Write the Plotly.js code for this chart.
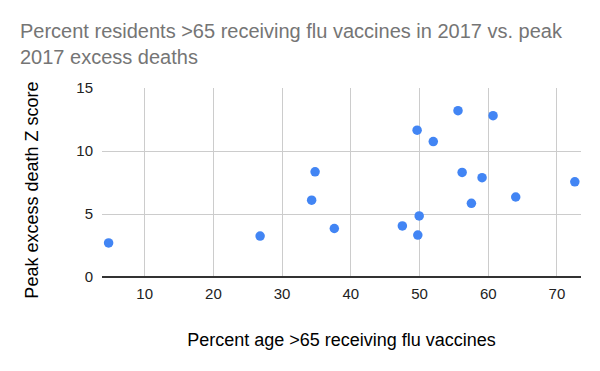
<!DOCTYPE html>
<html>
<head>
<meta charset="utf-8">
<script src="https://cdn.plot.ly/plotly-3.0.1.min.js"></script>
<style>html,body{margin:0;padding:0;background:#fff;}#chart{width:600px;height:371px;}</style>
</head>
<body>
<div id="chart"></div>
<script>
var vaccinePct = [4.75, 26.8, 34.3, 34.8, 37.6, 47.5, 49.95, 49.75, 49.65, 52.0, 55.6, 56.2, 57.55, 59.1, 60.7, 64.0, 72.6];
var peakZ = [2.70, 3.25, 6.1, 8.35, 3.85, 4.05, 4.85, 3.33, 11.65, 10.75, 13.2, 8.3, 5.85, 7.88, 12.8, 6.35, 7.55];
var xTicks = [10, 20, 30, 40, 50, 60, 70];
var yTicks = [0, 5, 10, 15];

var trace = {
  x: vaccinePct, y: peakZ, type: 'scatter', mode: 'markers',
  marker: {color: '#4285F4', size: 9.5, line: {width: 0}},
  hoverinfo: 'x+y'
};
var layout = {
  width: 600, height: 371,
  margin: {l: 102, r: 19, t: 88, b: 94},
  paper_bgcolor: '#fff', plot_bgcolor: '#fff',
  font: {family: 'Liberation Sans, Arial, sans-serif', color: '#222'},
  title: {text: 'Percent residents >65 receiving flu vaccines in 2017 vs. peak<br>2017 excess deaths',
    font: {size: 20, color: '#757575'}, x: 20/600, xref: 'container', xanchor: 'left',
    y: 1 - 38/371, yref: 'container', yanchor: 'top'},
  showlegend: false,
  xaxis: {range: [3.79, 73.5], tickvals: xTicks, ticktext: xTicks.map(String), showgrid: true,
    gridcolor: '#cccccc', gridwidth: 1, zeroline: false, showline: false, ticks: '',
    tickfont: {size: 15, color: '#222'}, ticklabelstandoff: 6,
    title: {text: 'Percent age >65 receiving flu vaccines', font: {size: 18, color: '#000'}, standoff: 32}},
  yaxis: {range: [0, 15], tickvals: yTicks, ticktext: yTicks.map(String), showgrid: true,
    gridcolor: '#cccccc', gridwidth: 1, zeroline: true, zerolinecolor: '#333', zerolinewidth: 1.3,
    showline: false, ticks: '', ticklabelstandoff: 8,
    tickfont: {size: 15, color: '#222'}},
  annotations: [{text: 'Peak excess death Z score', textangle: -90, showarrow: false,
    xref: 'paper', yref: 'paper', x: -70/479, y: 0.457, xanchor: 'center', yanchor: 'middle',
    font: {size: 18, color: '#000'}}]
};
Plotly.newPlot('chart', [trace], layout, {displayModeBar: false, staticPlot: true});
</script>
</body>
</html>
